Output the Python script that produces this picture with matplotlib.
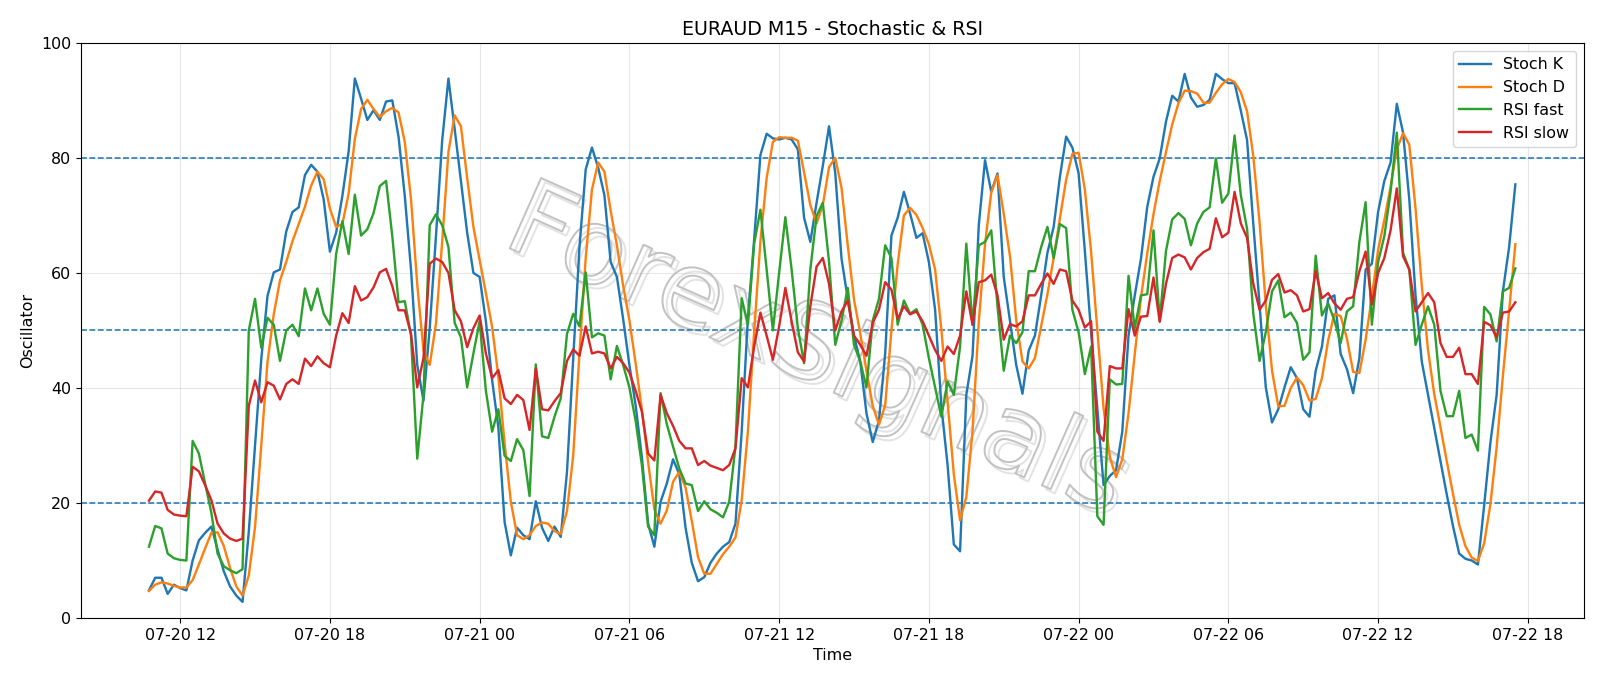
import numpy as np
import pandas as pd
import matplotlib
matplotlib.use("Agg")
import matplotlib.pyplot as plt
import matplotlib.dates as mdates
import matplotlib.patheffects as pe

######################################################
# Data (EURAUD M15)
######################################################

start_time = "2024-07-20 10:45"
n_bars = 220

stoch_k = [
    4.8, 7.0, 7.0, 4.2, 5.8, 5.2, 4.8, 10.0, 13.5, 14.8, 15.9, 11.9, 8.1, 5.5, 3.9, 2.8,
    15.0, 30.0, 45.0, 56.0, 60.1, 60.6, 67.2, 70.6, 71.4, 77.0, 78.8, 77.6, 72.8, 63.7,
    67.0, 73.4, 81.1, 93.8, 90.3, 86.6, 88.3, 86.6, 89.8, 90.0, 83.7, 73.4, 60.6, 44.0,
    37.8, 50.4, 66.4, 83.1, 93.8, 85.0, 76.0, 67.0, 60.0, 59.3, 51.6, 41.4, 33.1, 16.7,
    10.9, 15.7, 14.4, 13.7, 20.3, 15.7, 13.4, 15.9, 14.1, 25.4, 45.2, 64.5, 78.0, 81.8,
    78.3, 73.5, 61.9, 59.3, 52.0, 44.0, 37.0, 28.0, 16.4, 12.4, 20.2, 23.4, 27.6, 25.0,
    15.7, 9.6, 6.4, 7.1, 9.6, 11.2, 12.4, 13.2, 16.4, 32.4, 52.3, 65.8, 80.5, 84.2,
    83.4, 83.2, 83.5, 83.2, 81.5, 69.6, 65.4, 72.2, 78.6, 85.5, 77.3, 62.5, 55.5, 49.1,
    44.6, 35.6, 30.6, 34.3, 46.0, 66.5, 69.6, 74.1, 70.3, 66.1, 66.9, 61.9, 53.6, 36.9,
    26.6, 12.8, 11.6, 38.8, 45.6, 68.3, 79.6, 74.1, 77.3, 59.3, 51.7, 44.0, 39.0, 46.5,
    49.1, 56.1, 63.5, 68.0, 76.7, 83.7, 81.8, 77.3, 63.8, 49.7, 36.3, 23.1, 24.7, 25.7,
    32.4, 49.1, 56.1, 62.5, 71.5, 76.7, 79.9, 86.3, 90.8, 89.8, 94.6, 90.5, 88.9, 89.2,
    90.1, 94.6, 93.7, 93.0, 93.0, 88.2, 83.1, 68.5, 54.5, 40.1, 34.0, 36.3, 40.1, 43.6,
    41.7, 36.3, 35.0, 43.0, 47.2, 55.5, 56.1, 45.9, 43.3, 39.1, 45.2, 60.6, 61.6, 70.6,
    76.0, 79.2, 89.4, 84.4, 72.8, 56.1, 44.6, 38.8, 33.1, 27.3, 21.5, 16.0, 11.2, 10.3,
    10.0, 9.3, 19.6, 30.5, 38.8, 56.8, 64.5, 75.4,
]

stoch_d = [
    4.7, 5.8, 6.2, 6.0, 5.6, 5.3, 5.3, 6.6, 9.3, 12.1, 14.8, 14.9, 12.5, 8.7, 5.5, 3.9,
    7.4, 15.8, 30.0, 44.5, 52.8, 58.7, 61.9, 65.5, 68.5, 71.5, 75.2, 77.6, 76.3, 71.2,
    68.0, 68.5, 73.8, 83.3, 88.5, 90.1, 88.5, 87.1, 88.1, 88.7, 87.9, 82.8, 72.8, 58.0,
    46.5, 44.0, 51.2, 65.5, 81.1, 87.4, 85.5, 76.5, 68.0, 62.3, 56.5, 50.6, 42.0, 30.4,
    20.2, 14.4, 13.7, 14.4, 16.0, 16.6, 16.4, 15.1, 14.6, 18.6, 28.3, 46.0, 62.6, 74.5,
    79.2, 77.6, 70.8, 64.8, 57.8, 51.8, 44.3, 36.3, 27.1, 18.9, 16.4, 18.7, 23.7, 25.4,
    22.7, 16.9, 10.6, 7.7, 7.7, 9.4, 11.1, 12.4, 14.0, 20.5, 32.5, 49.8, 65.5, 76.5,
    82.8, 83.6, 83.5, 83.5, 83.0, 77.5, 71.8, 68.6, 71.8, 78.4, 80.0, 74.8, 64.8, 55.4,
    49.5, 43.0, 36.9, 33.6, 37.0, 50.0, 61.5, 70.0, 71.3, 70.1, 67.8, 65.0, 60.6, 50.2,
    37.5, 25.0, 17.0, 21.0, 32.5, 51.5, 65.0, 74.0, 77.0, 70.3, 62.9, 51.8, 44.6, 43.4,
    45.2, 50.8, 56.3, 62.6, 69.5, 76.2, 80.7, 80.9, 74.5, 63.7, 50.0, 36.5, 28.0, 24.5,
    27.6, 35.6, 45.9, 55.8, 63.4, 70.2, 76.0, 81.0, 85.8, 89.5, 91.7, 91.6, 91.2, 89.6,
    89.6, 91.3, 92.8, 93.7, 93.2, 91.4, 88.1, 80.3, 68.8, 54.5, 43.0, 36.8, 36.9, 40.0,
    41.8, 40.5, 37.8, 38.1, 41.7, 48.3, 52.9, 52.5, 48.6, 42.8, 42.6, 48.4, 55.8, 64.0,
    69.2, 75.0, 81.5, 84.3, 82.3, 71.2, 57.8, 46.6, 38.9, 33.2, 27.3, 21.6, 16.2, 12.5,
    10.5, 9.9, 13.0, 19.8, 29.7, 42.1, 53.4, 65.0,
]

rsi_fast = [
    12.4, 16.0, 15.6, 11.2, 10.4, 10.1, 10.0, 30.8, 28.6, 23.4, 18.3, 11.2, 9.0, 8.3, 7.8, 8.5,
    50.0, 55.5, 47.0, 52.2, 51.0, 44.7, 50.0, 51.0, 49.0, 57.3, 53.5, 57.3, 52.9, 51.0,
    63.3, 69.0, 63.3, 73.6, 66.5, 67.6, 70.4, 75.1, 76.0, 66.4, 54.9, 55.1, 49.1, 27.7,
    38.8, 68.3, 70.2, 68.3, 64.5, 51.3, 48.8, 40.1, 46.0, 51.6, 39.5, 32.4, 36.3, 28.2,
    27.3, 31.1, 29.2, 21.2, 44.1, 31.6, 31.3, 35.0, 38.2, 49.4, 52.9, 50.7, 60.1, 48.8,
    49.5, 49.1, 41.5, 47.3, 44.0, 40.1, 34.3, 26.6, 15.9, 14.4, 39.1, 33.7, 29.8, 26.0,
    23.4, 23.1, 18.6, 20.3, 18.9, 18.3, 17.5, 20.2, 29.8, 55.6, 51.0, 65.1, 71.0, 60.6,
    50.0, 60.0, 69.7, 60.6, 50.4, 44.3, 60.6, 69.9, 72.2, 61.9, 47.5, 51.7, 57.4, 47.5,
    44.6, 40.1, 51.7, 55.5, 64.8, 62.6, 51.0, 55.2, 52.9, 53.7, 51.0, 45.2, 40.1, 35.0,
    41.1, 38.8, 47.2, 65.1, 51.0, 64.8, 65.4, 67.4, 54.2, 43.0, 49.1, 47.8, 49.7, 60.3,
    60.3, 64.5, 68.0, 62.6, 68.5, 67.8, 53.6, 49.7, 42.4, 47.2, 17.7, 16.2, 41.5, 40.6,
    40.7, 59.5, 50.4, 56.1, 56.3, 67.4, 51.7, 63.8, 69.3, 70.4, 69.4, 64.8, 68.6, 70.6,
    71.4, 79.9, 72.2, 73.8, 83.9, 73.5, 67.7, 52.9, 44.7, 49.7, 56.8, 58.7, 52.3, 53.1,
    51.3, 44.9, 46.2, 63.0, 52.6, 54.7, 51.7, 47.8, 53.3, 54.2, 65.4, 72.3, 51.0, 61.9,
    66.4, 74.1, 84.4, 63.5, 60.6, 47.5, 51.0, 54.2, 51.0, 39.5, 35.1, 35.1, 39.5, 31.3,
    31.9, 29.1, 54.1, 52.8, 48.1, 56.8, 57.4, 60.8,
]

rsi_slow = [
    20.4, 22.0, 21.8, 18.8, 18.0, 17.8, 17.7, 26.3, 25.5, 23.1, 20.5, 16.4, 14.7, 13.8, 13.4, 13.8,
    36.9, 41.3, 37.5, 41.0, 40.4, 38.0, 40.7, 41.5, 40.7, 45.1, 43.8, 45.5, 44.3, 43.6,
    49.1, 53.0, 51.3, 57.7, 55.2, 55.8, 57.5, 60.1, 60.7, 57.7, 53.5, 53.5, 49.4, 40.1,
    45.2, 61.6, 62.5, 61.9, 60.0, 53.5, 51.6, 47.1, 50.4, 52.6, 46.0, 41.7, 43.1, 38.2,
    37.2, 38.8, 37.9, 32.7, 43.4, 36.3, 36.1, 37.7, 39.1, 44.7, 46.7, 45.6, 50.7, 46.0,
    46.3, 46.0, 43.4, 45.4, 44.3, 42.7, 39.5, 35.9, 28.6, 27.4, 38.8, 35.6, 33.4, 30.8,
    29.5, 29.5, 26.6, 27.3, 26.5, 26.1, 25.7, 26.6, 29.5, 41.7, 40.1, 47.2, 53.1, 49.1,
    44.9, 50.7, 57.4, 51.6, 46.2, 44.6, 54.2, 61.1, 62.6, 58.1, 50.0, 53.3, 55.2, 49.1,
    47.5, 45.6, 51.3, 53.6, 58.4, 57.1, 52.0, 54.2, 52.8, 53.3, 51.6, 49.1, 46.6, 44.7,
    47.2, 45.9, 49.1, 56.8, 51.0, 58.4, 58.7, 59.7, 56.1, 48.4, 51.1, 50.7, 51.6, 56.1,
    56.1, 58.1, 59.9, 58.1, 60.6, 60.3, 55.2, 53.6, 50.5, 51.6, 32.4, 30.8, 43.8, 43.4,
    43.4, 53.7, 49.1, 52.4, 52.5, 59.2, 51.5, 58.1, 62.6, 63.2, 62.7, 60.6, 62.6, 63.6,
    64.2, 69.5, 66.2, 67.0, 74.1, 68.6, 66.1, 58.1, 53.6, 55.2, 58.8, 59.8, 56.6, 57.0,
    56.1, 53.3, 53.7, 60.3, 55.6, 56.5, 54.7, 53.6, 55.5, 55.8, 60.3, 63.7, 54.5, 60.0,
    62.6, 67.4, 74.7, 62.9, 60.6, 53.3, 54.9, 56.5, 54.9, 47.8, 45.4, 45.4, 47.0, 42.4,
    42.4, 40.7, 51.5, 50.9, 48.8, 53.1, 53.3, 54.9,
]

levels = [20, 50, 80]

times = pd.date_range(start_time, periods=n_bars, freq="15min")
df = pd.DataFrame({"Stoch K": stoch_k, "Stoch D": stoch_d,
                   "RSI fast": rsi_fast, "RSI slow": rsi_slow}, index=times)

######################################################
# Plot
######################################################

s = 1.143  # scale from the original 114 dpi to 100 dpi
plt.rcParams["font.size"] = 10 * s

fig = plt.figure(figsize=(16, 6.86), dpi=100)
ax = fig.add_axes([0.0504, 0.0991, 0.9394, 0.8384])

for col in df.columns:
    ax.plot(df.index, df[col], label=col, lw=1.5 * s, zorder=3)

for lv in levels:
    ax.axhline(lv, color="C0", ls="--", lw=1.0 * s, zorder=2)

ax.set_ylim(0, 100)
ax.grid(True, alpha=0.3)
ax.xaxis.set_major_locator(mdates.HourLocator(byhour=[0, 6, 12, 18]))
ax.xaxis.set_major_formatter(mdates.DateFormatter("%m-%d %H"))

ax.set_title("EURAUD M15 - Stochastic & RSI", fontsize=12 * s)
ax.set_xlabel("Time")
ax.set_ylabel("Oscillator")
ax.legend(loc="upper right")

# watermark (outlined, with a soft shadow)
ax.text(0.49, 0.46, "ForexSignals", transform=ax.transAxes, fontsize=76,
        rotation=-24, ha="center", va="center", color=(1, 1, 1, 0), zorder=1,
        path_effects=[pe.Stroke(offset=(3, -3), linewidth=1.4, foreground="#e3e3e3"),
                      pe.Stroke(linewidth=1.4, foreground="#c2c2c2")])

fig.savefig("out.png", dpi=100)
